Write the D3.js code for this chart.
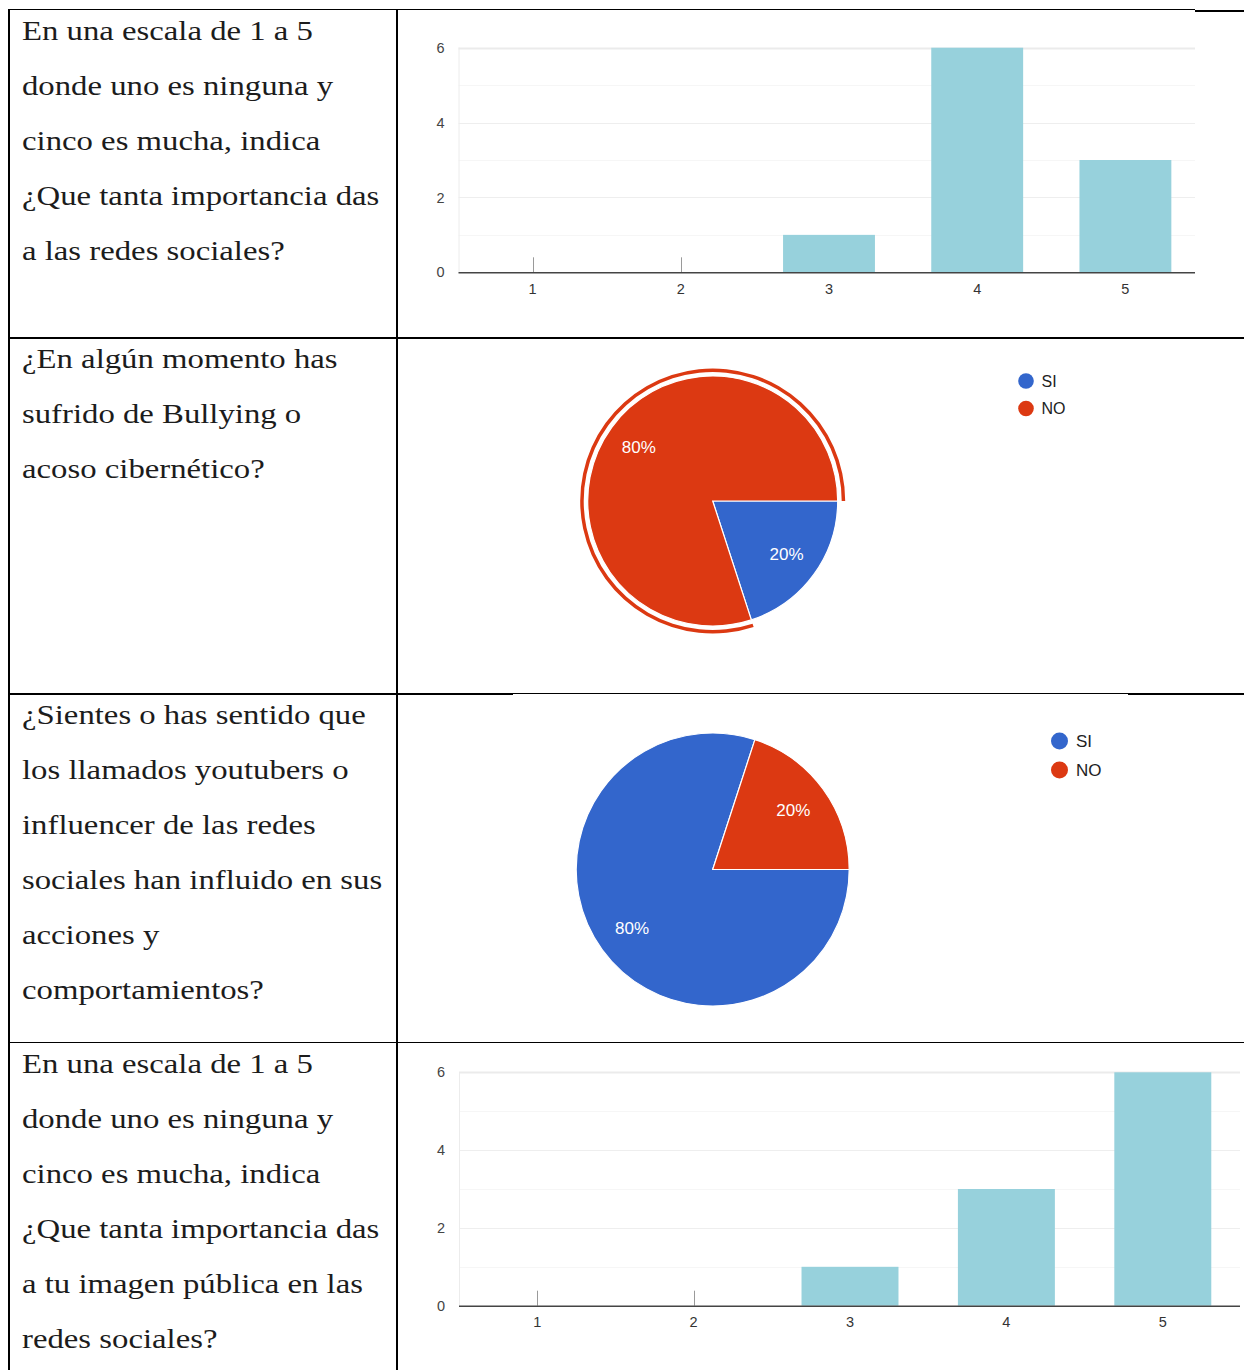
<!DOCTYPE html>
<html>
<head>
<meta charset="utf-8">
<script src="https://cdn.jsdelivr.net/npm/d3@7"></script>
<style>
  html, body { margin: 0; padding: 0; background: #fff; }
  svg { display: block; }
</style>
</head>
<body>
<svg id="chart" width="1244" height="1370"></svg>
<script>
// ---------------- DATA ----------------
const questions1 = ["En una escala de 1 a 5", "donde uno es ninguna y", "cinco es mucha, indica", "¿Que tanta importancia das", "a las redes sociales?"];
const questions2 = ["¿En algún momento has", "sufrido de Bullying o", "acoso cibernético?"];
const questions3 = ["¿Sientes o has sentido que", "los llamados youtubers o", "influencer de las redes", "sociales han influido en sus", "acciones y", "comportamientos?"];
const questions4 = ["En una escala de 1 a 5", "donde uno es ninguna y", "cinco es mucha, indica", "¿Que tanta importancia das", "a tu imagen pública en las", "redes sociales?"];

const scaleCategories = ["1", "2", "3", "4", "5"];
const bars1Values = [0, 0, 1, 6, 3];
const bars2Values = [0, 0, 1, 3, 6];
const yTickLabels = [0, 2, 4, 6];

const pieLabels = ["SI", "NO"];
const pie1Values = [20, 80];
const pie2Values = [80, 20];

// ---------------- STYLE ----------------
const svg = d3.select("#chart");
const BAR_COLOR = "#97d1dc";
const pieColor = d3.scaleOrdinal().domain(pieLabels).range(["#3366cc", "#dc3912"]);

svg.append("rect").attr("width", 1244).attr("height", 1370).attr("fill", "#fff");

// ---------------- TABLE ----------------
const rowTops = [9.5, 337, 693, 1042.5];
const rowsText = [questions1, questions2, questions3, questions4];
const textG = svg.append("g");
const sx = 1.2;
rowsText.forEach((lines, r) => {
  lines.forEach((line, i) => {
    textG.append("text")
      .attr("transform", `translate(22,${rowTops[r] + 30.5 + i * 55}) scale(${sx},1)`)
      .attr("font-family", "'Times New Roman', 'Liberation Serif', serif")
      .attr("font-size", 27.3)
      .attr("fill", "#1c1c1c")
      .text(line);
  });
});

const border = svg.append("g").attr("stroke", "#000").attr("shape-rendering", "crispEdges");
border.append("line").attr("x1", 8.5).attr("x2", 8.5).attr("y1", 9).attr("y2", 1370).attr("stroke-width", 2);
border.append("line").attr("x1", 396.5).attr("x2", 396.5).attr("y1", 9).attr("y2", 1370).attr("stroke-width", 2);
border.append("line").attr("x1", 8).attr("x2", 1195).attr("y1", 9.5).attr("y2", 9.5).attr("stroke-width", 1.5);
border.append("line").attr("x1", 1195).attr("x2", 1244).attr("y1", 10.5).attr("y2", 10.5).attr("stroke-width", 2);
border.append("line").attr("x1", 8).attr("x2", 1244).attr("y1", 337.5).attr("y2", 337.5).attr("stroke-width", 2);
border.append("line").attr("x1", 8).attr("x2", 513).attr("y1", 694).attr("y2", 694).attr("stroke-width", 2);
border.append("line").attr("x1", 513).attr("x2", 1128).attr("y1", 693.5).attr("y2", 693.5).attr("stroke-width", 1);
border.append("line").attr("x1", 1128).attr("x2", 1244).attr("y1", 694).attr("y2", 694).attr("stroke-width", 2);
border.append("line").attr("x1", 8).attr("x2", 1244).attr("y1", 1042.5).attr("y2", 1042.5).attr("stroke-width", 1.5);

// ---------------- BAR CHARTS ----------------
function barChart(values, box) {
  const g = svg.append("g");
  const x = d3.scaleBand().domain(scaleCategories).range([box.x0, box.x1]).paddingInner(0.38).paddingOuter(0.19);
  const y = d3.scaleLinear().domain([0, 6]).range([box.y0, box.y1]);
  const gridVals = d3.range(0, 7);
  g.selectAll(".grid").data(gridVals.filter(v => v > 0)).join("line")
    .attr("x1", box.x0).attr("x2", box.gx1)
    .attr("y1", d => Math.round(y(d)) + 0.5).attr("y2", d => Math.round(y(d)) + 0.5)
    .attr("stroke", d => d === 6 ? "#ebebeb" : (d % 2 === 0 ? "#eeeeee" : "#f6f6f6"))
    .attr("stroke-width", d => d === 6 ? 2 : 1);
  g.append("line").attr("x1", box.x0 + 0.5).attr("x2", box.x0 + 0.5)
    .attr("y1", y(6)).attr("y2", y(0)).attr("stroke", "#ececec");
  g.selectAll(".bar").data(values.map((v, i) => ({ c: scaleCategories[i], v })).filter(d => d.v > 0)).join("rect")
    .attr("x", d => x(d.c)).attr("width", x.bandwidth())
    .attr("y", d => y(d.v)).attr("height", d => y(0) - y(d.v))
    .attr("fill", BAR_COLOR);
  g.selectAll(".zero").data(values.map((v, i) => ({ c: scaleCategories[i], v })).filter(d => d.v === 0)).join("line")
    .attr("x1", d => Math.round(x(d.c) + x.bandwidth() / 2) + 0.5)
    .attr("x2", d => Math.round(x(d.c) + x.bandwidth() / 2) + 0.5)
    .attr("y1", y(0) - 15).attr("y2", y(0))
    .attr("stroke", "#9a9a9a").attr("stroke-width", 1);
  g.append("line").attr("x1", box.x0).attr("x2", box.gx1)
    .attr("y1", y(0) + 0.5).attr("y2", y(0) + 0.5)
    .attr("stroke", "#444").attr("stroke-width", 1.5);
  const yAxis = d3.axisLeft(y).tickValues(yTickLabels).tickSize(0).tickPadding(0).tickFormat(d3.format("d"));
  const ya = g.append("g").attr("transform", `translate(${box.x0 - 14},0)`).call(yAxis);
  ya.select(".domain").remove();
  ya.attr("font-size", null).attr("font-family", null);
  ya.selectAll("text").style("font-family", "Arial, 'Liberation Sans', sans-serif").style("font-size", "14.5px").attr("fill", "#444");
  const xAxis = d3.axisBottom(x).tickSize(0).tickPadding(0);
  const xa = g.append("g").attr("transform", `translate(0,${y(0) + 11})`).call(xAxis);
  xa.select(".domain").remove();
  xa.attr("font-size", null).attr("font-family", null);
  xa.selectAll("text").style("font-family", "Arial, 'Liberation Sans', sans-serif").style("font-size", "14.5px").attr("fill", "#333");
}

barChart(bars1Values, { x0: 458.5, x1: 1199.5, gx1: 1195, y0: 272.3, y1: 47.7 });
barChart(bars2Values, { x0: 459, x1: 1241, gx1: 1240, y0: 1305.7, y1: 1072.3 });

// ---------------- PIE CHARTS ----------------
function pieChart(values, c, r, legend, ringIndex) {
  const g = svg.append("g").attr("transform", `translate(${c[0]},${c[1]})`);
  const data = values.map((v, i) => ({ label: pieLabels[i], v }));
  const pie = d3.pie().value(d => d.v).sort(null).startAngle(Math.PI / 2).endAngle(Math.PI / 2 + 2 * Math.PI);
  const arcs = pie(data);
  const arc = d3.arc().innerRadius(0).outerRadius(r);
  g.selectAll(".slice").data(arcs).join("path")
    .attr("d", arc)
    .attr("fill", d => pieColor(d.data.label))
    .attr("stroke", "#fff").attr("stroke-width", 1.2);
  if (ringIndex != null) {
    const ring = d3.arc().innerRadius(r + 4).outerRadius(r + 7.5);
    g.append("path").attr("d", ring(arcs[ringIndex])).attr("fill", pieColor(arcs[ringIndex].data.label));
  }
  const labelArc = d3.arc().innerRadius(r * 0.73).outerRadius(r * 0.73);
  g.selectAll(".lbl").data(arcs).join("text")
    .attr("x", d => labelArc.centroid(d)[0])
    .attr("y", d => labelArc.centroid(d)[1])
    .attr("text-anchor", "middle").attr("dominant-baseline", "central")
    .attr("font-family", "Arial, 'Liberation Sans', sans-serif").attr("font-size", 17)
    .attr("fill", "#fff")
    .text(d => d.data.v + "%");
  const lg = svg.append("g");
  pieLabels.forEach((lab, i) => {
    const cy = legend.y + i * legend.dy;
    lg.append("circle").attr("cx", legend.x).attr("cy", cy).attr("r", legend.r).attr("fill", pieColor(lab));
    lg.append("text").attr("x", legend.x + legend.tx).attr("y", cy)
      .attr("dominant-baseline", "central")
      .attr("font-family", "Arial, 'Liberation Sans', sans-serif").attr("font-size", legend.fs)
      .attr("fill", "#222").text(lab);
  });
}

pieChart(pie1Values, [712.7, 501], 125, { x: 1026, y: 381, dy: 27.5, r: 7.8, tx: 15.5, fs: 16 }, 1);
pieChart(pie2Values, [712.7, 869.5], 136.5, { x: 1059.5, y: 741, dy: 29, r: 8.5, tx: 16.5, fs: 17 }, null);
</script>
</body>
</html>
